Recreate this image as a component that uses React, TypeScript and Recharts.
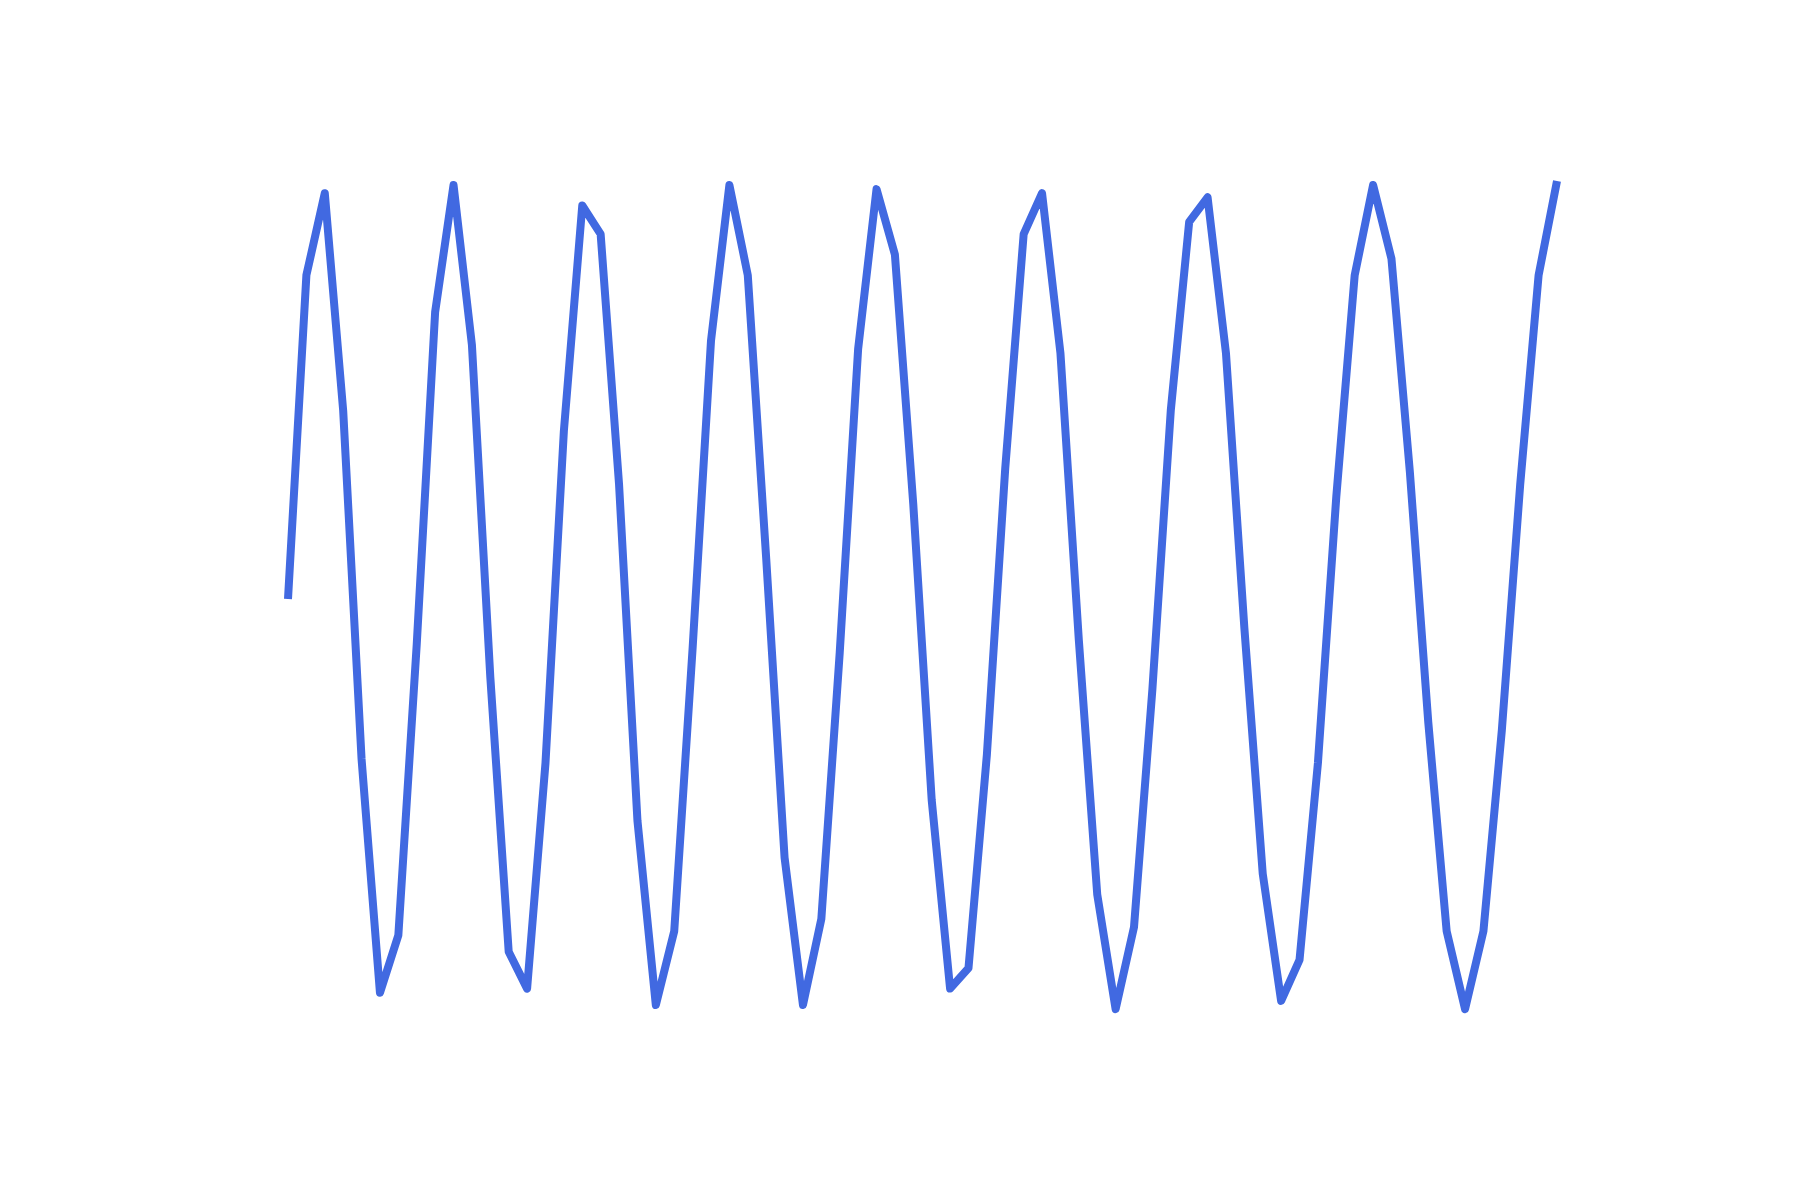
import { LineChart, Line, XAxis, YAxis } from 'recharts'

// readings, one per step
const values = [
  -0.01, 0.78, 0.98, 0.45, -0.4, -0.97, -0.83, -0.12, 0.69, 1.0,
  0.61, -0.2, -0.87, -0.96, -0.41, 0.4, 0.95, 0.88, 0.27, -0.55,
  -1.0, -0.82, -0.13, 0.62, 1.0, 0.78, 0.09, -0.64, -1.0, -0.79,
  -0.14, 0.6, 0.99, 0.83, 0.22, -0.5, -0.96, -0.91, -0.39, 0.31,
  0.88, 0.98, 0.59, -0.11, -0.73, -1.01, -0.81, -0.23, 0.45, 0.91,
  0.97, 0.59, -0.08, -0.68, -0.99, -0.89, -0.41, 0.24, 0.78, 1.0,
  0.82, 0.3, -0.31, -0.82, -1.01, -0.82, -0.33, 0.27, 0.78, 1.01,
]

const steps = values.map((_, i) => i)

const data = steps.map((step, i) => ({ step, value: values[i] }))

export default function App() {
  return (
    <div style={{ position: 'absolute', top: 0, left: 0, width: 1800, height: 1200, background: '#fff' }}>
      <LineChart
        width={1800}
        height={1200}
        data={data}
        margin={{ top: 103, right: 243, bottom: 113, left: 288 }}
      >
        <XAxis dataKey="step" type="number" domain={[0, steps.length - 1]} hide />
        <YAxis type="number" domain={[-1.2, 1.2]} hide />
        <Line
          type="linear"
          dataKey="value"
          stroke="#4169E1"
          strokeWidth={8}
          strokeLinejoin="round"
          strokeLinecap="butt"
          dot={false}
          activeDot={false}
          isAnimationActive={false}
        />
      </LineChart>
    </div>
  )
}
